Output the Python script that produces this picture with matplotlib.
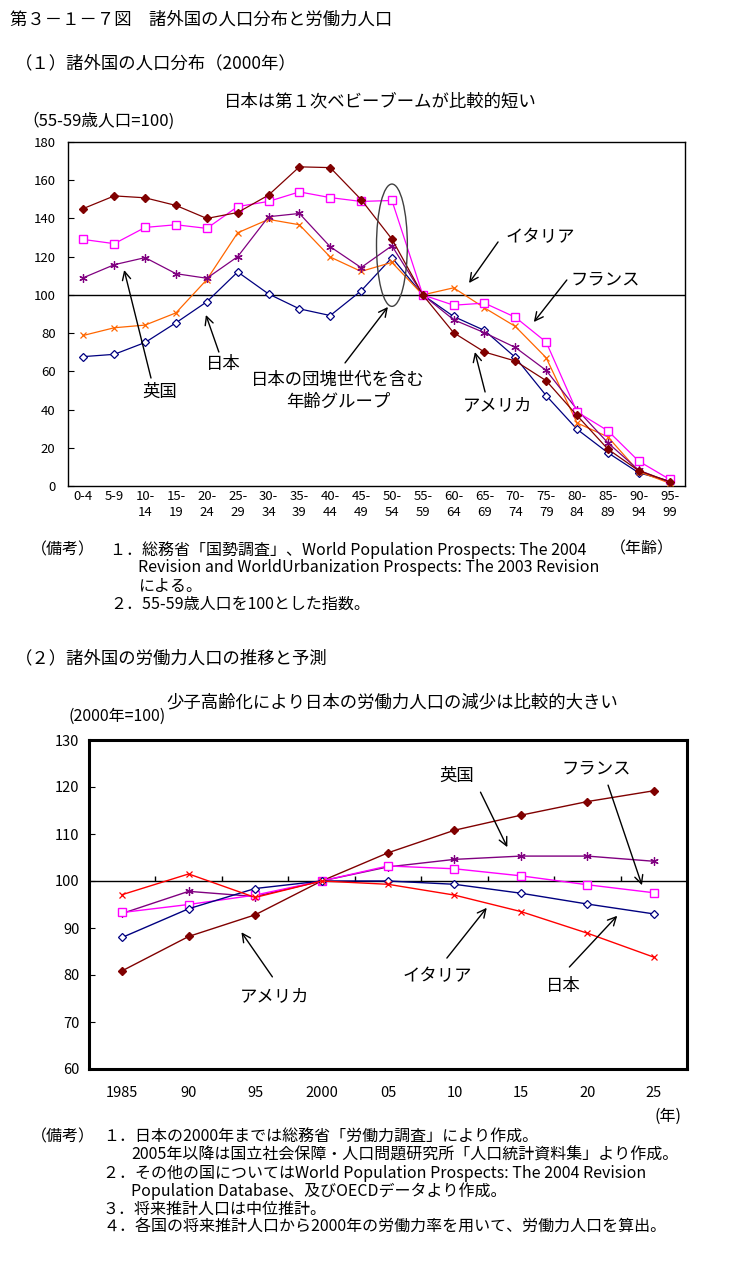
import matplotlib
matplotlib.use('Agg')
import matplotlib.pyplot as plt
from matplotlib.patches import Ellipse

plt.rcParams['font.family'] = ['Noto Sans CJK JP', 'DejaVu Sans']

W, H = 734, 1268

# (1) population by age group, 55-59 = 100
age_groups = ['0-4', '5-9', '10-\n14', '15-\n19', '20-\n24', '25-\n29', '30-\n34',
              '35-\n39', '40-\n44', '45-\n49', '50-\n54', '55-\n59', '60-\n64',
              '65-\n69', '70-\n74', '75-\n79', '80-\n84', '85-\n89', '90-\n94', '95-\n99']
pop_japan = [67.7, 68.9, 75.1, 85.4, 96.4, 112.0, 100.5, 92.7, 89.2, 102.1,
             119.5, 100, 88.7, 81.4, 67.3, 47.3, 29.7, 17.4, 6.9, 2.6]
pop_usa = [145.2, 151.8, 150.8, 146.8, 140.0, 143.1, 152.2, 167.0, 166.6, 149.9,
           129.2, 100, 80.2, 70.1, 65.4, 55.1, 36.9, 19.3, 8.0, 2.3]
pop_france = [129.0, 126.8, 135.3, 136.7, 134.8, 146.2, 148.9, 153.9, 150.9, 148.9,
              149.4, 100, 94.6, 95.7, 88.3, 75.3, 38.8, 28.9, 13.0, 3.5]
pop_uk = [109.0, 115.8, 119.5, 111.1, 108.7, 120.0, 140.9, 142.6, 125.2, 114.3,
          125.7, 100, 87.0, 80.2, 72.5, 60.5, 40.0, 22.6, 8.3, 2.0]
pop_italy = [78.8, 82.8, 84.2, 90.6, 108.0, 132.5, 139.5, 136.7, 119.8, 112.3,
             117.0, 100, 103.7, 93.2, 83.5, 67.1, 33.0, 25.7, 7.5, 1.5]

# (2) labour force, 2000 = 100
years = [1985, 1990, 1995, 2000, 2005, 2010, 2015, 2020, 2025]
year_labels = ['1985', '90', '95', '2000', '05', '10', '15', '20', '25']
lf_japan = [88.0, 94.1, 98.4, 100, 100.0, 99.3, 97.4, 95.1, 93.0]
lf_usa = [80.9, 88.2, 92.8, 100, 106.0, 110.8, 114.0, 116.9, 119.2]
lf_france = [93.3, 95.0, 97.0, 100, 103.2, 102.6, 101.1, 99.2, 97.5]
lf_uk = [93.1, 97.8, 96.7, 100, 103.0, 104.6, 105.3, 105.3, 104.2]
lf_italy = [97.1, 101.5, 96.5, 100, 99.3, 97.0, 93.5, 88.9, 83.8]

ASTER = (6, 2, 0)


def fx(px):
    return px / W


def fy(py):
    return 1 - py / H


def arrow(ax, tail, head):
    ax.annotate('', xy=head, xytext=tail,
                arrowprops=dict(arrowstyle='->,head_length=0.6,head_width=0.3',
                                color='black', lw=1, shrinkA=0, shrinkB=0))


fig = plt.figure(figsize=(W / 100, H / 100), dpi=100)

fig.text(fx(10), fy(20), '第３－１－７図　諸外国の人口分布と労働力人口', fontsize=12.5, va='center')
fig.text(fx(15), fy(63), '（１）諸外国の人口分布（2000年）', fontsize=12.5, va='center')
fig.text(fx(380), fy(101), '日本は第１次ベビーブームが比較的短い', fontsize=12.5, va='center', ha='center')
fig.text(fx(22), fy(121), '（55-59歳人口=100)', fontsize=12, va='center')

# ---- top chart
ax1 = fig.add_axes([fx(68), fy(486), (685 - 68) / W, (486 - 142) / H])
x = list(range(len(age_groups)))
ax1.axhline(100, color='black', lw=1, zorder=1)
ax1.plot(x, pop_japan, color='#000080', lw=0.9, marker='D', ms=4.5, mfc='white', mec='#000080', mew=0.9, zorder=3)
ax1.plot(x, pop_italy, color='#FF6600', lw=0.9, marker='x', ms=5, mew=0.9, zorder=3)
ax1.plot(x, pop_uk, color='#800080', lw=0.9, marker=ASTER, ms=6, mew=0.9, zorder=3)
ax1.plot(x, pop_france, color='#FF00FF', lw=0.9, marker='s', ms=5.5, mfc='white', mec='#FF00FF', mew=1, zorder=3)
ax1.plot(x, pop_usa, color='#800000', lw=0.9, marker='D', ms=4.5, mfc='#800000', mec='#800000', zorder=4)
ax1.set_xlim(-0.5, len(age_groups) - 0.5)
ax1.set_ylim(0, 180)
ax1.set_yticks(range(0, 181, 20))
ax1.set_xticks(x)
ax1.set_xticklabels(age_groups, fontsize=9.5, linespacing=1.25)
ax1.tick_params(axis='x', length=0, pad=3)
ax1.tick_params(axis='y', direction='in', length=4, pad=9, labelsize=9.5)
for s in ax1.spines.values():
    s.set_linewidth(1)

ax1.add_patch(Ellipse((10, 126), width=1.0, height=64, fill=False, edgecolor='#404040', lw=1, zorder=5))

ax1.text(14.8, 130.3, 'イタリア', fontsize=12.5, ha='center', va='center')
arrow(ax1, (13.44, 127.7), (12.5, 106.2))
ax1.text(16.9, 108.3, 'フランス', fontsize=12.5, ha='center', va='center')
arrow(ax1, (15.67, 107.8), (14.6, 85.8))
ax1.text(2.48, 49.2, '英国', fontsize=12.5, ha='center', va='center')
arrow(ax1, (2.19, 56.5), (1.32, 113.0))
ax1.text(4.52, 63.8, '日本', fontsize=12.5, ha='center', va='center')
arrow(ax1, (4.39, 70.1), (3.97, 89.5))
ax1.text(8.25, 49.7, '日本の団塊世代を含む\n年齢グループ', fontsize=12.5, ha='center', va='center', linespacing=1.3)
arrow(ax1, (8.48, 64.4), (9.87, 93.7))
ax1.text(13.41, 42.4, 'アメリカ', fontsize=12.5, ha='center', va='center')
arrow(ax1, (13.02, 49.2), (12.69, 70.1))

fig.text(fx(610), fy(549), '（年齢）', fontsize=11.5, va='center')
fig.text(fx(31), fy(550), '（備考）', fontsize=11.5, va='center')
fig.text(fx(110), fy(550), '１．総務省「国勢調査」、World Population Prospects: The 2004', fontsize=11.5, va='center')
fig.text(fx(138), fy(568), 'Revision and WorldUrbanization Prospects: The 2003 Revision', fontsize=11.5, va='center')
fig.text(fx(138), fy(586), 'による。', fontsize=11.5, va='center')
fig.text(fx(110), fy(604), '２．55-59歳人口を100とした指数。', fontsize=11.5, va='center')

# ---- bottom chart
fig.text(fx(15), fy(658), '（２）諸外国の労働力人口の推移と予測', fontsize=12.5, va='center')
fig.text(fx(392), fy(702), '少子高齢化により日本の労働力人口の減少は比較的大きい', fontsize=12.5, va='center', ha='center')
fig.text(fx(68), fy(716), '(2000年=100)', fontsize=11.5, va='center')

ax2 = fig.add_axes([fx(89), fy(1069), (687 - 89) / W, (1069 - 740) / H])
ax2.axhline(100, color='black', lw=1, zorder=1)
ax2.vlines([y + 2.5 for y in years[:-1]], 100, 101.1, color='black', lw=1, zorder=1)
ax2.plot(years, lf_usa, color='#800000', lw=1, marker='D', ms=4.5, mfc='#800000', mec='#800000', zorder=3)
ax2.plot(years, lf_uk, color='#800080', lw=1, marker=ASTER, ms=6, mew=0.9, zorder=3)
ax2.plot(years, lf_france, color='#FF00FF', lw=1, marker='s', ms=5.5, mfc='white', mec='#FF00FF', mew=1, zorder=3)
ax2.plot(years, lf_japan, color='#000080', lw=1, marker='D', ms=4.5, mfc='white', mec='#000080', mew=0.9, zorder=3)
ax2.plot(years, lf_italy, color='#FF0000', lw=1, marker='x', ms=5, mew=0.9, zorder=3)
ax2.set_xlim(1982.5, 2027.5)
ax2.set_ylim(60, 130)
ax2.set_yticks(range(60, 131, 10))
ax2.set_xticks(years)
ax2.set_xticklabels(year_labels, fontsize=10.5)
ax2.tick_params(axis='x', length=0, pad=12)
ax2.tick_params(axis='y', direction='in', length=4, pad=7, labelsize=10.5)
for s in ax2.spines.values():
    s.set_linewidth(2.2)

ax2.text(2010.16, 122.3, '英国', fontsize=12.5, ha='center', va='center')
arrow(ax2, (2011.96, 118.9), (2013.98, 107.2))
ax2.text(2020.66, 124.0, 'フランス', fontsize=12.5, ha='center', va='center')
arrow(ax2, (2021.56, 120.4), (2024.11, 99.1))
ax2.text(1996.45, 75.5, 'アメリカ', fontsize=12.5, ha='center', va='center')
arrow(ax2, (1996.3, 79.6), (1993.97, 89.1))
ax2.text(2008.68, 79.8, 'イタリア', fontsize=12.5, ha='center', va='center')
arrow(ax2, (2009.43, 83.6), (2012.43, 94.3))
ax2.text(2018.2, 77.7, '日本', fontsize=12.5, ha='center', va='center')
arrow(ax2, (2018.65, 81.7), (2022.25, 92.6))

fig.text(fx(655), fy(1116), '(年)', fontsize=11.5, va='center')
fig.text(fx(31), fy(1137), '（備考）', fontsize=11.5, va='center')
fig.text(fx(103), fy(1137), '１．日本の2000年までは総務省「労働力調査」により作成。', fontsize=11.5, va='center')
fig.text(fx(131), fy(1155), '2005年以降は国立社会保障・人口問題研究所「人口統計資料集」より作成。', fontsize=11.5, va='center')
fig.text(fx(103), fy(1173), '２．その他の国についてはWorld Population Prospects: The 2004 Revision', fontsize=11.5, va='center')
fig.text(fx(131), fy(1191), 'Population Database、及びOECDデータより作成。', fontsize=11.5, va='center')
fig.text(fx(103), fy(1209), '３．将来推計人口は中位推計。', fontsize=11.5, va='center')
fig.text(fx(103), fy(1227), '４．各国の将来推計人口から2000年の労働力率を用いて、労働力人口を算出。', fontsize=11.5, va='center')

fig.savefig('out.png', dpi=100)
